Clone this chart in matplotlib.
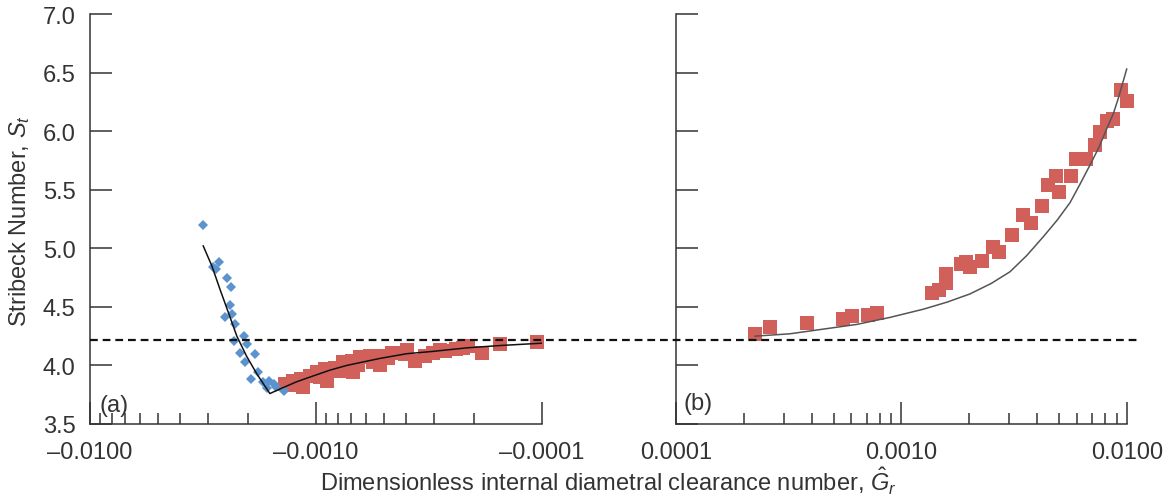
import numpy as np
import matplotlib
matplotlib.use("Agg")
import matplotlib.pyplot as plt
from matplotlib.ticker import FixedLocator, FixedFormatter, NullFormatter

plt.rcParams['font.family'] = ['Liberation Sans', 'DejaVu Sans']
plt.rcParams['mathtext.fontset'] = 'custom'
plt.rcParams['mathtext.rm'] = 'Liberation Sans'
plt.rcParams['mathtext.it'] = 'Liberation Sans:italic'

# (a) negative clearance, blue diamonds
neg_blue_G = [-0.00317, -0.00285, -0.00270, -0.00276, -0.00248, -0.00238, -0.00240,
              -0.00253, -0.00236, -0.00228, -0.00231, -0.00209, -0.00203, -0.00217,
              -0.00186, -0.00206, -0.00180, -0.00193, -0.00162, -0.00154, -0.00165,
              -0.00139, -0.00172, -0.00150]
neg_blue_St = [5.20, 4.84, 4.88, 4.82, 4.75, 4.67, 4.52,
               4.41, 4.44, 4.35, 4.21, 4.25, 4.18, 4.11,
               4.10, 4.03, 3.94, 3.88, 3.87, 3.84, 3.81,
               3.78, 3.86, 3.82]

# (a) negative clearance, red squares
neg_red_G = [-0.00137, -0.00130, -0.00126, -0.00116, -0.00114, -0.00106, -0.00099,
             -0.00096, -0.000912, -0.000897, -0.000824, -0.000780, -0.000757,
             -0.000695, -0.000686, -0.000650, -0.000639, -0.000577, -0.000560,
             -0.000521, -0.000512, -0.000480, -0.000462, -0.000425, -0.000404,
             -0.000397, -0.000365, -0.000330, -0.000303, -0.000283, -0.000270,
             -0.000240, -0.000223, -0.000212, -0.000185, -0.000153, -0.000105]
neg_red_St = [3.84, 3.83, 3.87, 3.88, 3.82, 3.91, 3.94,
              3.90, 3.97, 3.87, 3.98, 3.95, 4.03,
              4.04, 3.94, 4.00, 4.07, 4.08, 4.03,
              4.00, 4.08, 4.06, 4.11, 4.11, 4.10,
              4.13, 4.04, 4.08, 4.11, 4.13, 4.12,
              4.14, 4.15, 4.17, 4.11, 4.18, 4.20]

# (a) fitted curve
neg_fit_G = [-0.003155, -0.00289, -0.00266, -0.00244, -0.00224, -0.00203, -0.00183,
             -0.00160, -0.00144, -0.00122, -0.00103, -0.000867, -0.000731, -0.000618,
             -0.000521, -0.000397, -0.000303, -0.000215, -0.000153, -0.000100]
neg_fit_St = [5.02, 4.85, 4.65, 4.45, 4.25, 4.08, 3.93,
              3.76, 3.80, 3.86, 3.91, 3.96, 4.00, 4.03,
              4.06, 4.10, 4.12, 4.15, 4.17, 4.19]

# (b) positive clearance, red squares
pos_G = [0.000224, 0.000261, 0.000380, 0.000552, 0.000601, 0.000712, 0.000780,
         0.00136, 0.00146, 0.00157, 0.00157, 0.00183, 0.00201, 0.00194, 0.00228,
         0.00255, 0.00270, 0.00308, 0.00346, 0.00377, 0.00418, 0.00446, 0.00485,
         0.00501, 0.00566, 0.00595, 0.00660, 0.00720, 0.00758, 0.00813, 0.00871,
         0.00945, 0.0100]
pos_St = [4.27, 4.33, 4.36, 4.40, 4.42, 4.43, 4.45,
          4.62, 4.64, 4.70, 4.78, 4.87, 4.84, 4.88, 4.89,
          5.01, 4.97, 5.11, 5.28, 5.22, 5.36, 5.54, 5.62,
          5.48, 5.62, 5.76, 5.76, 5.88, 5.99, 6.09, 6.10,
          6.35, 6.26]

# (b) fitted curve
pos_fit_G = [0.000224, 0.000320, 0.000450, 0.000633, 0.000889, 0.00125, 0.00159,
             0.00201, 0.00250, 0.00303, 0.00360, 0.00426, 0.00490, 0.00559, 0.00620,
             0.00685, 0.00750, 0.00813, 0.00870, 0.00915, 0.00997]
pos_fit_St = [4.25, 4.27, 4.31, 4.35, 4.41, 4.48, 4.54,
              4.61, 4.70, 4.80, 4.94, 5.10, 5.24, 5.39, 5.55,
              5.71, 5.86, 6.02, 6.15, 6.28, 6.53]

St_ref = 4.22

y_ticks = [3.5, 4.0, 4.5, 5.0, 5.5, 6.0, 6.5, 7.0]

blue = '#5b93cf'
red = '#d2605a'
ink = '#333333'
W, H = 1170, 502

fig = plt.figure(figsize=(W / 100, H / 100), dpi=100)
axL = fig.add_axes([90 / W, 77 / H, 452 / W, 410 / H])
axR = fig.add_axes([676 / W, 77 / H, 451 / W, 410 / H])


def neg_fwd(x):
    return -np.log10(-np.asarray(x, dtype=float))


def neg_inv(y):
    return -10.0 ** (-np.asarray(y, dtype=float))


with np.errstate(all='ignore'):
    axL.set_xscale('function', functions=(neg_fwd, neg_inv))
axL.set_xlim(-0.01, -0.0001)
axR.set_xscale('log')
axR.set_xlim(0.0001, 0.01)

axL.plot(neg_red_G, neg_red_St, 's', ms=9.5, mew=0, color=red, zorder=2, clip_on=False)
axL.plot(neg_blue_G, neg_blue_St, 'D', ms=5.5, mew=0, color=blue, zorder=3, clip_on=False)
axL.plot(neg_fit_G, neg_fit_St, '-', lw=1.1, color='#111111', zorder=4)

axR.plot(pos_G, pos_St, 's', ms=9.5, mew=0, color=red, zorder=2, clip_on=False)
axR.plot(pos_fit_G, pos_fit_St, '-', lw=1.1, color='#555555', zorder=4, clip_on=False)

axL.xaxis.set_major_locator(FixedLocator([-0.01, -0.001, -0.0001]))
axL.xaxis.set_major_formatter(FixedFormatter(['\u20130.0100', '\u20130.0010', '\u20130.0001']))
axL.xaxis.set_minor_locator(FixedLocator([-m * d for d in (1e-3, 1e-4) for m in range(2, 10)]))
axL.xaxis.set_minor_formatter(NullFormatter())

axR.xaxis.set_major_locator(FixedLocator([0.0001, 0.001, 0.01]))
axR.xaxis.set_major_formatter(FixedFormatter(['0.0001', '0.0010', '0.0100']))
axR.xaxis.set_minor_locator(FixedLocator([m * d for d in (1e-4, 1e-3) for m in range(2, 10)]))
axR.xaxis.set_minor_formatter(NullFormatter())

for ax in (axL, axR):
    ax.set_ylim(3.5, 7.0)
    ax.set_yticks(y_ticks)
    ax.patch.set_alpha(0)
    for s in ('top', 'right'):
        ax.spines[s].set_visible(False)
    for s in ('left', 'bottom'):
        ax.spines[s].set_color(ink)
        ax.spines[s].set_linewidth(1.1)
    ax.tick_params(which='major', direction='in', length=16, width=1.1, color=ink,
                   labelsize=17, labelcolor=ink)
    ax.tick_params(which='minor', direction='in', length=8, width=1.1, color=ink)
    ax.tick_params(axis='x', which='major', pad=12)
    ax.tick_params(axis='y', which='major', pad=10.5)

axL.set_yticklabels([f'{v:.1f}' for v in y_ticks])
axR.set_yticklabels([])

axL.text(0.02, 0.019, '(a)', transform=axL.transAxes, fontsize=17, color=ink,
         ha='left', va='bottom')
axR.text(0.016, 0.025, '(b)', transform=axR.transAxes, fontsize=17, color=ink,
         ha='left', va='bottom')

# dashed reference level running across both panels
axD = fig.add_axes([90 / W, 77 / H, (1138 - 90) / W, 410 / H])
axD.set_ylim(3.5, 7.0)
axD.set_xlim(0, 1)
axD.axis('off')
axD.axhline(St_ref, color='#111111', lw=1.6, dashes=(3.5, 2.2))

fig.text(20 / W, 1 - 221 / H, 'Stribeck Number, $S_t$', rotation=90, fontsize=17,
         color=ink, ha='center', va='center')
fig.text(608 / W, 1 - 491 / H, 'Dimensionless internal diametral clearance number, $\\hat{G}_r$',
         fontsize=17, color=ink, ha='center', va='baseline')

fig.savefig('out.png', dpi=100)
